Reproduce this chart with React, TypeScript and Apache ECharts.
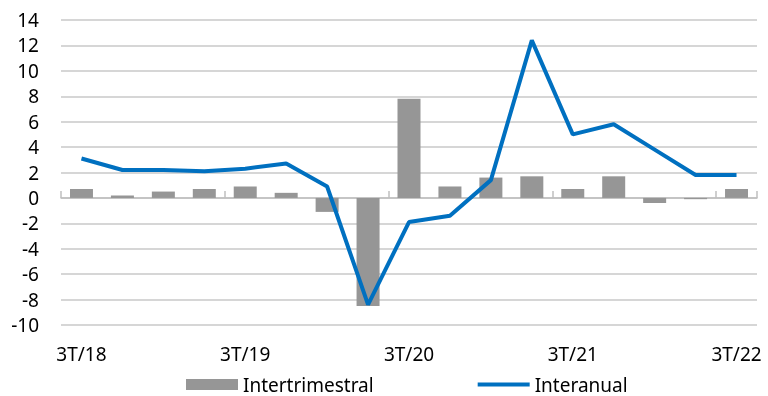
import React, { useEffect, useRef } from "react";
import * as echarts from "echarts";

const categories = [
  "3T/18", "4T/18", "1T/19", "2T/19", "3T/19", "4T/19", "1T/20", "2T/20",
  "3T/20", "4T/20", "1T/21", "2T/21", "3T/21", "4T/21", "1T/22", "2T/22", "3T/22",
];
const intertrimestral = [0.7, 0.2, 0.5, 0.7, 0.9, 0.4, -1.1, -8.5, 7.8, 0.9, 1.6, 1.7, 0.7, 1.7, -0.4, -0.1, 0.7];
const interanual = [3.1, 2.2, 2.2, 2.1, 2.3, 2.7, 0.9, -8.4, -1.9, -1.4, 1.4, 12.4, 5.0, 5.8, 3.8, 1.8, 1.8];

const FONT = "Noto Sans";

export default function App() {
  const ref = useRef<HTMLDivElement>(null);
  useEffect(() => {
    if (!ref.current) return;
    const chart = echarts.init(ref.current, null, { renderer: "svg" });
    chart.setOption({
      animation: false,
      textStyle: { fontFamily: FONT },
      grid: { left: 61, right: 11, top: 20, bottom: 71 },
      legend: {
        left: 186,
        top: 375,
        padding: 0,
        itemGap: 104,
        itemWidth: 52,
        itemHeight: 11,
        textStyle: { fontFamily: FONT, fontSize: 19, lineHeight: 19, color: "#000" },
        data: [
          { name: "Intertrimestral", icon: "rect" },
          { name: "Interanual", icon: "path://M0,0 L52,0 L52,4 L0,4 Z" },
        ],
      },
      xAxis: [
        {
          type: "category",
          data: categories,
          position: "bottom",
          axisLine: { show: false, onZero: false },
          axisTick: { show: false },
          axisLabel: { interval: 3, fontSize: 19, color: "#000", fontFamily: FONT, margin: 19 },
          splitLine: { show: false },
        },
        {
          type: "category",
          data: categories,
          position: "bottom",
          axisLine: { show: true, onZero: true, lineStyle: { color: "#bfbfbf", width: 1.5 } },
          axisTick: { show: true, inside: true, interval: 3, length: 7, lineStyle: { color: "#bfbfbf", width: 1.5 } },
          axisLabel: { show: false },
          splitLine: { show: false },
        },
      ],
      yAxis: {
        type: "value",
        min: -10,
        max: 14,
        interval: 2,
        axisLine: { show: false },
        axisTick: { show: false },
        axisLabel: { fontSize: 19, color: "#000", fontFamily: FONT, margin: 22 },
        splitLine: { lineStyle: { color: "#c8c8c8", width: 1.5 } },
      },
      series: [
        {
          name: "Intertrimestral",
          type: "bar",
          xAxisIndex: 0,
          data: intertrimestral,
          barWidth: 23,
          itemStyle: { color: "#969696" },
        },
        {
          name: "Interanual",
          type: "line",
          xAxisIndex: 0,
          data: interanual,
          symbol: "none",
          lineStyle: { color: "#0070c0", width: 4 },
          itemStyle: { color: "#0070c0" },
        },
      ],
    });
    return () => chart.dispose();
  }, []);
  return <div ref={ref} style={{ position: "fixed", left: 0, top: 0, width: 768, height: 396 }} />;
}
